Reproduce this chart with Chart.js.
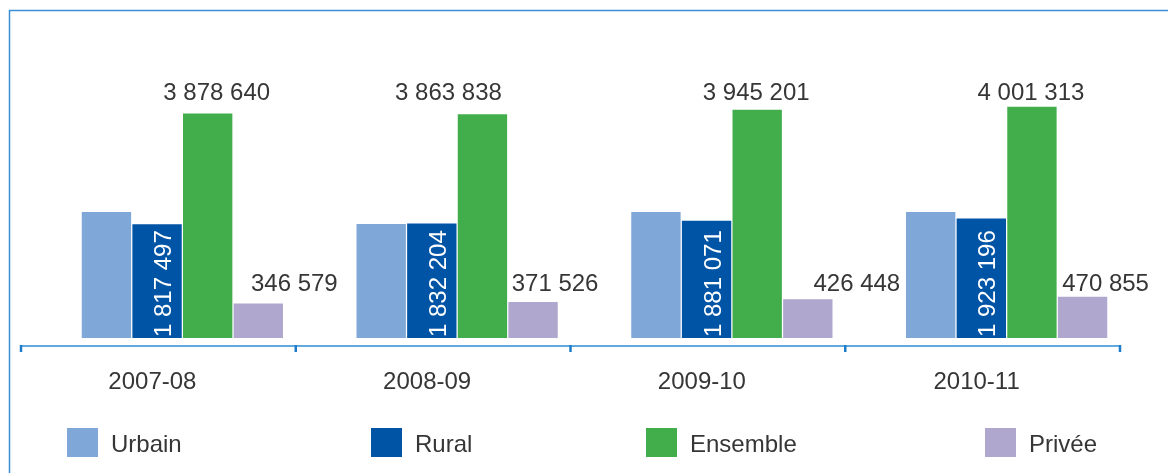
<!DOCTYPE html>
<html>
<head>
<meta charset="utf-8">
<script src="https://cdn.jsdelivr.net/npm/chart.js@4/dist/chart.umd.min.js"></script>
<style>
  html, body { margin: 0; padding: 0; background: #fff; }
  #wrap { width: 1168px; height: 473px; }
</style>
</head>
<body>
<div id="wrap"><canvas id="effChart" width="1168" height="473"></canvas></div>
<script>
const years = ['2007-08', '2008-09', '2009-10', '2010-11'];
const urbain = [2046000, 1823000, 2046000, 2046000];
const rural = [1817497, 1832204, 1881071, 1923196];
const ensemble = [3878640, 3863838, 3945201, 4001313];
const privee = [346579, 371526, 426448, 470855];
const seriesNames = ['Urbain', 'Rural', 'Ensemble', 'Privée'];

const Y_MIN = -296000;
const Y_MAX = 5243000;
const FONT = '"Liberation Sans", Arial, sans-serif';
const TEXT = '#363636';
const colors = ['#7fa8d8', '#0054a6', '#41ae4b', '#afa7ce'];

const fmt = v => String(v).replace(/\B(?=(\d{3})+(?!\d))/g, ' ');

// extras drawn on the canvas: frame, axis line, value labels, legend
const decor = {
  id: 'decor',
  beforeDraw(chart) {
    const ctx = chart.ctx;
    ctx.save();
    ctx.strokeStyle = '#3b8fd5';
    ctx.lineWidth = 1.5;
    ctx.beginPath();
    ctx.moveTo(9.5, chart.height);
    ctx.lineTo(9.5, 10.5);
    ctx.lineTo(chart.width, 10.5);
    ctx.stroke();
    ctx.restore();
  },
  afterDatasetsDraw(chart) {
    const ctx = chart.ctx;
    const area = chart.chartArea;
    const y = chart.scales.y;
    const catW = area.width / years.length;

    // axis line with ticks between groups
    ctx.save();
    const axisY = area.bottom + 8;
    const shift = -24;
    ctx.strokeStyle = '#62a9de';
    ctx.lineWidth = 2;
    ctx.beginPath();
    ctx.moveTo(area.left + shift, axisY);
    ctx.lineTo(area.right + shift, axisY);
    ctx.stroke();
    ctx.strokeStyle = '#1f7cc8';
    ctx.lineWidth = 2.5;
    for (let i = 0; i <= years.length; i++) {
      const tx = area.left + i * catW + shift;
      ctx.beginPath();
      ctx.moveTo(tx, axisY - 1);
      ctx.lineTo(tx, axisY + 6);
      ctx.stroke();
    }
    ctx.restore();

    // value labels
    ctx.save();
    ctx.font = '24px ' + FONT;
    ctx.fillStyle = TEXT;
    ctx.textAlign = 'center';
    ctx.textBaseline = 'alphabetic';
    const ensMeta = chart.getDatasetMeta(2);
    const ensY = y.getPixelForValue(Math.max(...ensemble)) - 7;
    const ensShift = [9, -34, -1, -1];
    ensMeta.data.forEach((bar, i) => {
      ctx.fillText(fmt(ensemble[i]), bar.x + ensShift[i], ensY);
    });
    const prvMeta = chart.getDatasetMeta(3);
    const prvY = y.getPixelForValue(Math.max(...privee)) - 6;
    const prvShift = [36, 22, 49, 23];
    prvMeta.data.forEach((bar, i) => {
      ctx.fillText(fmt(privee[i]), bar.x + prvShift[i], prvY);
    });
    // rural labels, vertical, inside the bars
    const rurMeta = chart.getDatasetMeta(1);
    ctx.fillStyle = '#ffffff';
    ctx.textAlign = 'left';
    rurMeta.data.forEach((bar, i) => {
      ctx.save();
      ctx.translate(bar.x + 14, area.bottom - 1);
      ctx.rotate(-Math.PI / 2);
      ctx.fillText(fmt(rural[i]), 0, 0);
      ctx.restore();
    });
    ctx.restore();

    // legend
    ctx.save();
    const legendX = [67, 371, 646, 985];
    ctx.font = '24px ' + FONT;
    ctx.textBaseline = 'alphabetic';
    ctx.textAlign = 'left';
    seriesNames.forEach((name, i) => {
      ctx.fillStyle = colors[i];
      ctx.fillRect(legendX[i], 428, 31, 29);
      ctx.fillStyle = TEXT;
      ctx.fillText(name, legendX[i] + 44, 452);
    });
    ctx.restore();
  }
};

const mk = (i, data) => ({
  label: seriesNames[i],
  data: data,
  backgroundColor: colors[i],
  borderWidth: 0,
  base: Y_MIN
});

new Chart(document.getElementById('effChart').getContext('2d'), {
  type: 'bar',
  data: {
    labels: years,
    datasets: [mk(0, urbain), mk(1, rural), mk(2, ensemble), mk(3, privee)]
  },
  options: {
    responsive: false,
    animation: false,
    devicePixelRatio: 1,
    layout: { padding: { left: 45, right: 24, top: 40, bottom: 0 } },
    categoryPercentage: 0.737,
    barPercentage: 0.975,
    scales: {
      x: {
        grid: { display: false, drawTicks: false },
        border: { display: false },
        ticks: {
          font: { family: FONT, size: 24 },
          color: TEXT,
          padding: 30,
          labelOffset: -30,
          maxRotation: 0,
          autoSkip: false
        },
        afterFit: s => { s.height = 135; }
      },
      y: { display: false, min: Y_MIN, max: Y_MAX }
    },
    plugins: {
      legend: { display: false },
      tooltip: { enabled: false }
    }
  },
  plugins: [decor]
});
</script>
</body>
</html>
